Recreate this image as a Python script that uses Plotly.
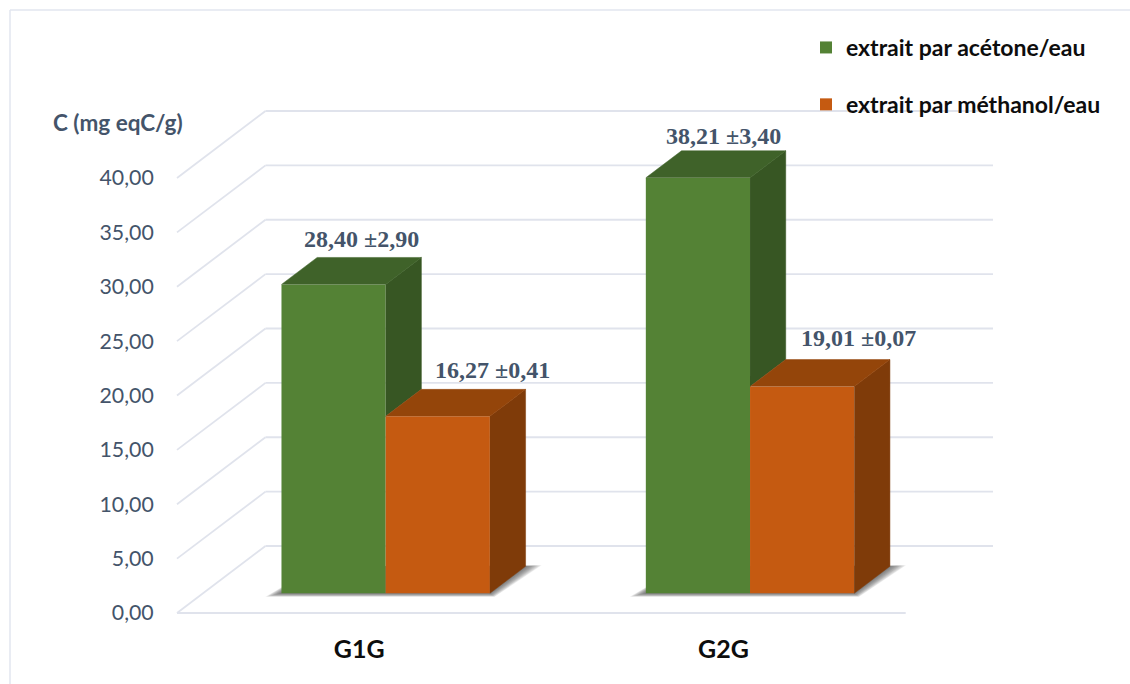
import plotly.graph_objects as go

# Data
groups = ["G1G", "G2G"]
acetone = [28.40, 38.21]
methanol = [16.27, 19.01]
acetone_err = ["2,90", "3,40"]
methanol_err = ["0,41", "0,07"]
ticks = [0, 5, 10, 15, 20, 25, 30, 35, 40]

# Figure and floor/wall geometry, in pixels
W, H = 1130, 684
FLOOR_L, WALL_R, WALL_T, FLOOR_B = 177, 993, 111, 613
PAD = 3                           # keeps the outer gridlines from being clipped
L, R, T, B = FLOOR_L - PAD, WALL_R + PAD, WALL_T - PAD, FLOOR_B + PAD
UNIT_PX = (FLOOR_B - 178) / 40    # pixels per value unit
CAT_PX = 728.7 / 2                # pixels per category on the front floor edge

# 3D projection: wall depth and bar depth, converted to axis units
WALL_DX, WALL_DY = 88.5 / CAT_PX, 67 / UNIT_PX
BAR_DX, BAR_DY = 35.7 / CAT_PX, 27 / UNIT_PX
BASE = 19.7 / UNIT_PX             # bars stand set back from the front floor edge
BAR_W = 104.2 / CAT_PX
SHIFT = 26.5 / CAT_PX             # bar pair offset from the category centre

GREEN = dict(front="#548235", top="#3f6229", side="#375623")
ORANGE = dict(front="#c55a11", top="#94450a", side="#7f3b09")
GRID = "#e0e3ec"
SLATE = "#44546a"

x_end = -0.5 + (WALL_R - FLOOR_L) / CAT_PX
x_range = [-0.5 - PAD / CAT_PX, x_end + PAD / CAT_PX]
y_range = [-PAD / UNIT_PX, (FLOOR_B - WALL_T + PAD) / UNIT_PX]


def px(x):
    return (x - L) / (R - L)


def py(y):
    return (B - y) / (B - T)


fig = go.Figure()
shapes = []

# Frame on the left and top of the chart area
frame = "#e2e6ef"
shapes.append(dict(type="line", xref="paper", yref="paper", x0=px(10), x1=px(10),
                   y0=py(H), y1=py(10), line=dict(color=frame, width=1.5), layer="below"))
shapes.append(dict(type="line", xref="paper", yref="paper", x0=px(10), x1=px(W),
                   y0=py(10), y1=py(10), line=dict(color=frame, width=1.5), layer="below"))

# Gridlines: oblique on the side wall, horizontal on the back wall
for t in ticks:
    shapes.append(dict(type="line", x0=-0.5, y0=t, x1=-0.5 + WALL_DX, y1=t + WALL_DY,
                       line=dict(color=GRID, width=1.8), layer="below"))
    shapes.append(dict(type="line", x0=-0.5 + WALL_DX, y0=t + WALL_DY, x1=x_end, y1=t + WALL_DY,
                       line=dict(color=GRID, width=1.8), layer="below"))
shapes.append(dict(type="line", x0=-0.5, y0=0, x1=1.5, y1=0,
                   line=dict(color=GRID, width=1.8), layer="below"))

# Soft floor shadow: stacked translucent footprints behind each bar pair
for i in range(len(groups)):
    left = i + SHIFT - BAR_W
    right = i + SHIFT + BAR_W
    for step in range(1, 11):
        s = step / 10
        a = s * 16 / CAT_PX
        low = BASE - s * 3.5 / UNIT_PX
        path = (f"M{left - a},{low} L{right + 0.3 * a},{low} "
                f"L{right + BAR_DX + a},{BASE + BAR_DY + s * 1 / UNIT_PX} "
                f"L{left + BAR_DX},{BASE + BAR_DY} Z")
        shapes.append(dict(type="path", path=path, fillcolor="rgba(70,70,70,0.1)",
                           line=dict(width=0), layer="below"))

# Front faces
x_pos = list(range(len(groups)))
fig.add_trace(go.Bar(x=x_pos, y=acetone, base=BASE, width=BAR_W, offset=SHIFT - BAR_W,
                     name="extrait par acétone/eau", legendgroup="a",
                     marker=dict(color=GREEN["front"], line=dict(width=0)), hoverinfo="skip"))
fig.add_trace(go.Bar(x=x_pos, y=methanol, base=BASE, width=BAR_W, offset=SHIFT,
                     name="extrait par méthanol/eau", legendgroup="m",
                     marker=dict(color=ORANGE["front"], line=dict(width=0)), hoverinfo="skip"))


def face(xs, ys, color):
    fig.add_trace(go.Scatter(x=xs, y=ys, mode="lines", fill="toself", fillcolor=color,
                             line=dict(color=color, width=0.5), showlegend=False, hoverinfo="skip"))


# Side and top faces follow each bar's value through the same axes
for i in x_pos:
    split = i + SHIFT
    ga, me = BASE + acetone[i], BASE + methanol[i]
    face([split, split + BAR_DX, split + BAR_DX, split],
         [ga, ga + BAR_DY, me + BAR_DY, me], GREEN["side"])
    face([split - BAR_W, split - BAR_W + BAR_DX, split + BAR_DX, split],
         [ga, ga + BAR_DY, ga + BAR_DY, ga], GREEN["top"])
    right = split + BAR_W
    face([right, right + BAR_DX, right + BAR_DX, right],
         [me, me + BAR_DY, BASE + BAR_DY, BASE], ORANGE["side"])
    face([split, split + BAR_DX, right + BAR_DX, right],
         [me, me + BAR_DY, me + BAR_DY, me], ORANGE["top"])

# Value labels above each bar
annotations = []
label_font = dict(family="Liberation Serif", size=24, color=SLATE)
offsets_a = [(10, 18), (8, 15)]
offsets_m = [(37, 19), (39, 22)]
for i in x_pos:
    a_txt = f"<b>{acetone[i]:.2f} ±{acetone_err[i]}</b>".replace(".", ",")
    m_txt = f"<b>{methanol[i]:.2f} ±{methanol_err[i]}</b>".replace(".", ",")
    annotations.append(dict(x=i + SHIFT - BAR_W / 2 + BAR_DX / 2, y=BASE + acetone[i] + BAR_DY,
                            text=a_txt, showarrow=False, font=label_font,
                            xshift=offsets_a[i][0], yshift=offsets_a[i][1]))
    annotations.append(dict(x=i + SHIFT + BAR_W / 2 + BAR_DX / 2, y=BASE + methanol[i] + BAR_DY,
                            text=m_txt, showarrow=False, font=label_font,
                            xshift=offsets_m[i][0], yshift=offsets_m[i][1]))

# Unit label over the value axis
annotations.append(dict(xref="paper", yref="paper", x=px(118), y=py(123), xanchor="center", yanchor="middle",
                        text="<b>C (mg eqC/g)</b>", showarrow=False,
                        font=dict(family="Lato", size=22.5, color=SLATE)))

fig.update_layout(
    width=W, height=H,
    margin=dict(l=L, r=W - R, t=T, b=H - B, autoexpand=False),
    paper_bgcolor="white", plot_bgcolor="rgba(0,0,0,0)",
    barmode="overlay", separators=", ",
    shapes=shapes, annotations=annotations,
    legend=dict(x=px(806), y=py(26), xanchor="left", yanchor="top",
                font=dict(family="Lato", size=23, color="#0d0d0d", weight="bold"),
                tracegroupgap=24, bgcolor="rgba(0,0,0,0)"),
    xaxis=dict(range=x_range, tickmode="array", tickvals=x_pos, ticktext=[f"<b>{g}</b>" for g in groups],
               tickfont=dict(family="Lato", size=25, color="#0d0d0d"),
               ticks="outside", ticklen=11, tickcolor="rgba(0,0,0,0)",
               showgrid=False, zeroline=False, showline=False),
    yaxis=dict(range=y_range, tickmode="array", tickvals=ticks, tickformat=".2f",
               tickfont=dict(family="Lato", size=21.3, color=SLATE),
               ticks="outside", ticklen=15, tickcolor="rgba(0,0,0,0)",
               showgrid=False, zeroline=False, showline=False),
)

fig.write_html("out.html")
